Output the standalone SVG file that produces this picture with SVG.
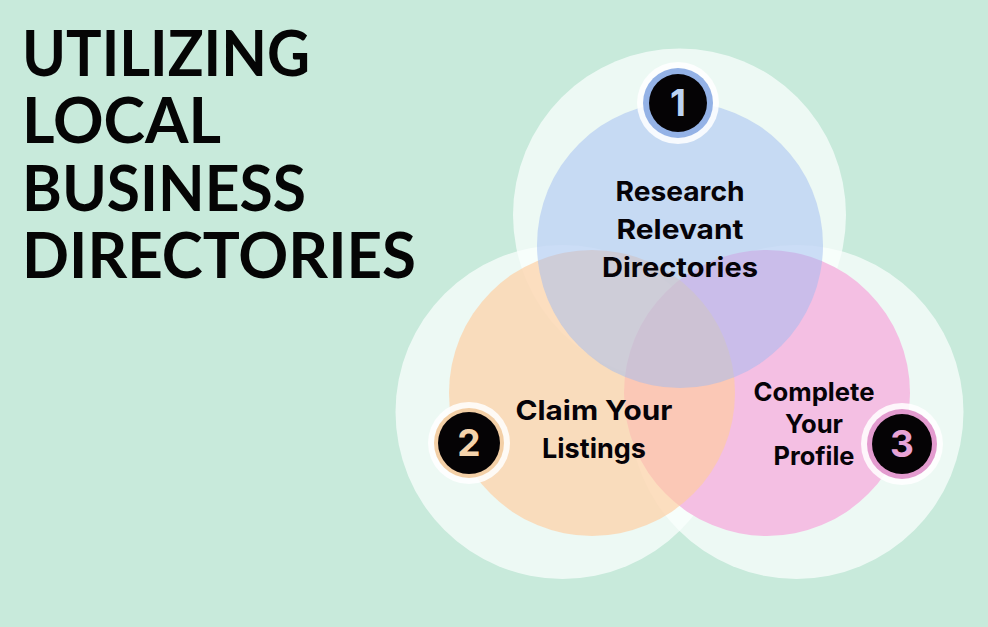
<svg xmlns="http://www.w3.org/2000/svg" width="988" height="627" viewBox="0 0 988 627">
<style>
.title{font-family:"Lato","Liberation Sans",sans-serif;font-weight:700;font-size:64px;fill:#050505}
.label{font-family:"Inter","Liberation Sans",sans-serif;font-weight:700;font-size:27.5px;fill:#060308;text-anchor:middle}
.small{font-size:25.5px}
.num{font-family:"Inter","Liberation Sans",sans-serif;font-weight:700;font-size:37px;text-anchor:middle}
.halo{fill:#fff;fill-opacity:.85}
.disc{fill:#050305}
</style>
<rect width="988" height="627" fill="#C8EADB"/>
<text id="title" class="title"><tspan x="22" y="76" textLength="288" lengthAdjust="spacingAndGlyphs">UTILIZING</tspan><tspan x="22" y="143" textLength="199" lengthAdjust="spacingAndGlyphs">LOCAL</tspan><tspan x="22" y="211" textLength="284" lengthAdjust="spacingAndGlyphs">BUSINESS</tspan><tspan x="22" y="278" textLength="394" lengthAdjust="spacingAndGlyphs">DIRECTORIES</tspan></text>
<g id="outer-rings" fill="#FBFFFE" fill-opacity=".72">
<circle cx="679.5" cy="215" r="166.5"/>
<circle cx="562.5" cy="412" r="167"/>
<circle cx="796.5" cy="412" r="167"/>
</g>
<g id="node-3-circle"><circle cx="767" cy="393" r="143" fill="#F4BFE3"/></g>
<g id="node-2-circle"><circle cx="592" cy="393" r="143" fill="#FFCC9E" fill-opacity=".65"/></g>
<g id="node-1-circle"><circle cx="680" cy="245" r="143" fill="#A0BCF2" fill-opacity=".5"/></g>
<g id="node-1">
<text class="label" x="680" y="201" textLength="129" lengthAdjust="spacingAndGlyphs">Research</text>
<text class="label" x="680" y="239" textLength="127" lengthAdjust="spacingAndGlyphs">Relevant</text>
<text class="label" x="680" y="277" textLength="156" lengthAdjust="spacingAndGlyphs">Directories</text>
<circle class="halo" cx="678" cy="103" r="41"/>
<circle cx="678" cy="103" r="35" fill="#94B2E6"/>
<circle class="disc" cx="678" cy="103" r="29"/>
<text class="num" x="678" y="116" fill="#BCD3F2">1</text>
</g>
<g id="node-2">
<text class="label" x="594" y="420" textLength="157" lengthAdjust="spacingAndGlyphs">Claim Your</text>
<text class="label" x="594" y="458" textLength="104" lengthAdjust="spacingAndGlyphs">Listings</text>
<circle class="halo" cx="469" cy="443" r="41"/>
<circle cx="469" cy="443" r="35" fill="#F3CFA6"/>
<circle class="disc" cx="469" cy="443" r="31"/>
<text class="num" x="469" y="456" fill="#F5D3AC">2</text>
</g>
<g id="node-3">
<text class="label small" x="814" y="401" textLength="121" lengthAdjust="spacingAndGlyphs">Complete</text>
<text class="label small" x="814" y="433" textLength="58" lengthAdjust="spacingAndGlyphs">Your</text>
<text class="label small" x="814" y="465" textLength="81" lengthAdjust="spacingAndGlyphs">Profile</text>
<circle class="halo" cx="902" cy="444" r="41"/>
<circle cx="902" cy="444" r="35" fill="#E39BCF"/>
<circle class="disc" cx="902" cy="444" r="30"/>
<text class="num" x="902" y="457" fill="#E8A3D6">3</text>
</g>
</svg>
